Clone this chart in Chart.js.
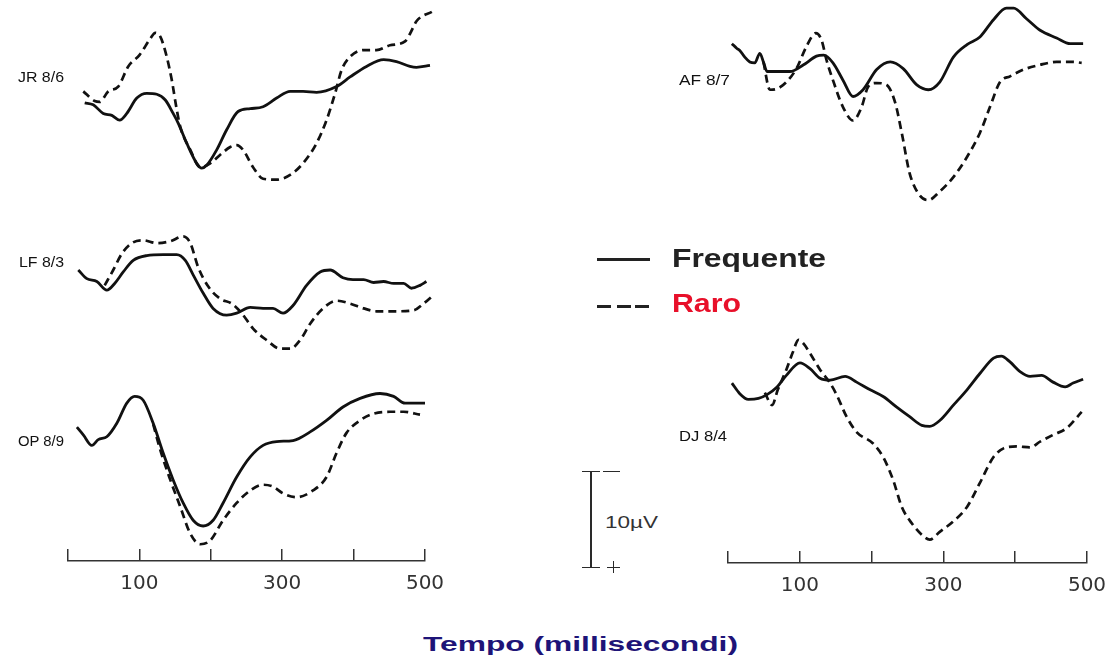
<!DOCTYPE html>
<html><head><meta charset="utf-8">
<script src="https://cdn.jsdelivr.net/npm/chart.js@4.4.1/dist/chart.umd.min.js"></script>
<style>
html,body{margin:0;padding:0;background:#fff;}
body{width:1111px;height:664px;position:relative;overflow:hidden;font-family:"Liberation Sans",Arial,sans-serif;}
canvas{position:absolute;}
.t{position:absolute;white-space:nowrap;transform-origin:0 0;line-height:1;}
.ln{position:absolute;background:#2a2a2a;}
</style></head><body>
<canvas id="colL" width="395" height="600" style="left:55px;top:0px"></canvas>
<canvas id="colR" width="396" height="600" style="left:715px;top:0px"></canvas>
<canvas id="axL" width="407" height="50" style="left:43px;top:549px"></canvas>
<canvas id="axR" width="409" height="50" style="left:703px;top:551px"></canvas>
<script>
// ---------- DATA (time in ms, amplitude in µV, negative up) ----------
const jrFreqMs = [23,35,49,61,72,82,96,110,124,136,147,154,166,180,187,194,208,222,238,255,273,292,311,329,348,376,395,418,442,460,479,488,507];
const jrFreqUv = [0.3,0.5,1.4,1.6,2.1,1.4,-0.2,-0.7,-0.6,0,1.4,2.4,4.5,6.6,7.1,6.8,5.2,3.1,1.2,0.9,0.7,-0.2,-0.9,-0.9,-0.8,-1.4,-2.4,-3.5,-4.2,-4.0,-3.5,-3.4,-3.6];
const jrRaroMs = [21,37,44,56,70,84,100,115,122,129,138,145,152,157,171,185,199,213,227,236,245,259,273,292,311,329,348,362,374,383,395,414,432,451,472,479,488,510];
const jrRaroUv = [-0.9,0.1,0.2,-0.9,-1.4,-3.5,-4.7,-6.4,-7.0,-6.6,-4.5,-2.1,1.0,2.8,5.2,7.0,6.6,5.7,4.9,4.7,5.2,7.0,8.2,8.3,7.8,6.6,4.5,2.1,-0.7,-3.1,-4.5,-5.2,-5.2,-5.7,-6.1,-6.9,-8.2,-9.2];

const lfFreqMs = [14,26,40,54,65,77,91,110,133,152,164,175,189,203,222,236,255,273,287,301,315,334,353,367,385,399,414,428,442,456,470,481,493,502];
const lfFreqUv = [0,0.9,1.2,2.1,1.4,0.2,-1.0,-1.5,-1.6,-1.6,-1.0,0.5,2.4,4.0,4.7,4.5,3.9,4.0,4.0,4.5,3.7,1.6,0.2,0,0.8,1.0,1.0,1.3,1.2,1.4,1.4,1.9,1.6,1.2];
const lfRaroMs = [51,63,75,89,105,124,143,161,171,182,196,213,229,243,259,278,297,311,325,339,357,376,395,414,432,460,484,498,512];
const lfRaroUv = [1.6,0,-1.7,-2.8,-3.1,-2.8,-3.0,-3.5,-2.8,-0.3,1.7,3.0,3.5,4.5,6.1,7.3,8.2,8.2,7.3,5.6,4.0,3.2,3.5,4.0,4.3,4.3,4.2,3.5,2.6];

const opFreqMs = [12,21,33,42,54,68,82,93,105,119,133,147,161,175,189,203,217,236,255,273,292,315,339,362,385,409,437,456,472,488,500];
const opFreqUv = [-0.3,0.5,1.6,1.0,0.7,-0.7,-2.8,-3.5,-3.1,-0.7,2.4,5.2,7.6,9.4,10.0,9.4,7.6,4.9,2.8,1.6,1.2,1.1,0.2,-1.0,-2.4,-3.3,-3.8,-3.5,-2.8,-2.8,-2.8];
const opRaroMs = [119,129,143,157,171,185,199,217,236,255,273,287,301,320,343,362,376,390,409,428,451,470,493];
const opRaroUv = [-0.6,2.1,5.2,8.0,10.8,11.9,11.5,9.4,7.6,6.3,5.7,5.9,6.6,7.0,6.3,4.9,2.4,0.3,-1.0,-1.7,-1.9,-1.9,-1.6];

const afFreqMs = [5,12,16,23,30,37,44,49,54,68,86,105,123,133,146,160,174,188,207,226,244,263,279,295,314,333,351,370,388,398,416,435,458,477,495];
const afFreqUv = [-1.7,-1.2,-1.0,-0.3,0.2,0.3,-0.7,0.2,1.2,1.2,1.2,0.5,-0.4,-0.5,0.3,2.1,3.8,3.1,1.0,0.2,0.9,2.6,3.1,2.3,-0.3,-1.6,-2.4,-4.2,-5.4,-5.4,-4.3,-3.1,-2.3,-1.7,-1.7];
const afRaroMs = [49,58,68,81,95,109,122,130,137,146,160,174,186,195,207,221,233,242,253,267,279,295,314,333,351,365,379,393,412,435,458,481,493];
const afRaroUv = [0.2,3.1,3.0,2.3,0.9,-1.4,-2.8,-2.1,0,2.1,4.9,6.3,4.9,2.8,2.4,2.6,4.5,7.6,11.8,14.1,14.6,13.7,12.2,10.1,7.6,4.9,2.3,1.7,1.0,0.5,0.2,0.2,0.3];

const djFreqMs = [5,16,28,42,54,68,81,100,114,128,142,163,179,198,216,235,253,270,281,295,314,333,351,370,381,393,407,421,437,453,470,481,495];
const djFreqUv = [-0.2,0.9,1.5,1.4,1.0,0.2,-1.0,-2.3,-1.7,-0.7,-0.5,-0.9,-0.3,0.5,1.2,2.3,3.3,4.2,4.3,3.7,2.1,0.5,-1.2,-2.8,-3.0,-2.4,-1.4,-0.9,-1.0,-0.3,0.2,-0.2,-0.6];
const djRaroMs = [51,61,69,81,90,98,105,114,128,142,151,165,179,202,216,230,242,256,270,281,295,314,333,351,370,384,402,421,435,453,472,493];
const djRaroUv = [0.8,2.1,0.5,-1.6,-3.4,-4.7,-4.3,-3.3,-1.6,-0.2,1.0,3.3,4.9,6.1,7.5,9.9,12.7,14.4,15.6,16.1,15.3,14.2,12.7,10.2,7.5,6.6,6.4,6.5,5.9,5.2,4.5,2.8];

const panelLabels = ['JR 8/6','LF 8/3','OP 8/9','AF 8/7','DJ 8/4'];
const seriesNames = ['Frequente','Raro'];
const axisTicks = [0,100,200,300,400,500];
const axisTickLabels = [100,300,500];
const scaleBarUv = 10;
const axisTitle = 'Tempo (millisecondi)';

// ---------- LAYOUT ----------
const UV_PX = 9.6;                 // pixels per µV (10 µV bar = 96 px)
const COLH = 600;
const cols = {
  L:{id:'colL', left:55, width:395, px0:68.3, pxPerMs:0.7134},
  R:{id:'colR', left:715, width:396, px0:728.3, pxPerMs:0.7168}
};
const panels = [
  {col:'L', base:100, fMs:jrFreqMs, fUv:jrFreqUv, rMs:jrRaroMs, rUv:jrRaroUv},
  {col:'L', base:270, fMs:lfFreqMs, fUv:lfFreqUv, rMs:lfRaroMs, rUv:lfRaroUv},
  {col:'L', base:430, fMs:opFreqMs, fUv:opFreqUv, rMs:opRaroMs, rUv:opRaroUv},
  {col:'R', base:60,  fMs:afFreqMs, fUv:afFreqUv, rMs:afRaroMs, rUv:afRaroUv},
  {col:'R', base:385, fMs:djFreqMs, fUv:djFreqUv, rMs:djRaroMs, rUv:djRaroUv}
];
const INK = '#111';

function pts(ms, uv){ return ms.map((x,i)=>({x:x, y:uv[i]})); }

Object.keys(cols).forEach(k=>{
  const c = cols[k];
  const scales = {
    x:{type:'linear', display:false,
       min:(c.left - c.px0)/c.pxPerMs, max:(c.left + c.width - c.px0)/c.pxPerMs}
  };
  const datasets = [];
  panels.forEach((p,i)=>{
    if(p.col!==k) return;
    const yid = 'y'+i;
    scales[yid] = {type:'linear', display:false, reverse:true,
      min:(0 - p.base)/UV_PX, max:(COLH - p.base)/UV_PX};
    datasets.push({label:seriesNames[1]+' '+panelLabels[i], data:pts(p.rMs,p.rUv), yAxisID:yid,
      borderColor:INK, borderWidth:2.7, borderDash:[8,5], pointRadius:0,
      cubicInterpolationMode:'monotone', fill:false, clip:false});
    datasets.push({label:seriesNames[0]+' '+panelLabels[i], data:pts(p.fMs,p.fUv), yAxisID:yid,
      borderColor:INK, borderWidth:2.8, pointRadius:0,
      cubicInterpolationMode:'monotone', fill:false, clip:false});
  });
  new Chart(document.getElementById(c.id), {
    type:'line', data:{datasets},
    options:{animation:false, responsive:false, events:[],
      layout:{padding:0},
      plugins:{legend:{display:false}, tooltip:{enabled:false}},
      scales}
  });
});

function axisChart(id){
  new Chart(document.getElementById(id), {
    type:'line', data:{datasets:[]},
    options:{animation:false, responsive:false, events:[],
      layout:{padding:{left:25,right:25,top:0,bottom:3}},
      plugins:{legend:{display:false}, tooltip:{enabled:false}},
      scales:{
        x:{type:'linear', position:'bottom', min:axisTicks[0], max:axisTicks[axisTicks.length-1],
          afterBuildTicks:(s)=>{ s.ticks = axisTicks.map(v=>({value:v})); },
          afterFit:(s)=>{ s.height = 35; s.paddingLeft = 0; s.paddingRight = 0; },
          ticks:{autoSkip:false, maxRotation:0, minRotation:0, padding:11, color:'#333',
            font:{family:'DejaVu Sans', size:20},
            callback:(v)=> axisTickLabels.includes(v) ? String(v) : ''},
          grid:{display:true, drawOnChartArea:true, drawTicks:false, color:'#333', lineWidth:1.5},
          border:{display:true, color:'#333', width:1.5}},
        y:{display:false}
      }}
  });
}
axisChart('axL'); axisChart('axR');

// ---------- TEXT & DECORATIONS ----------
function text(str, left, cy, width, fs, weight, color, family){
  const d = document.createElement('div');
  d.className='t'; d.textContent=str;
  d.style.fontSize=fs+'px'; d.style.fontWeight=weight; d.style.color=color;
  d.style.fontFamily = family || '"Liberation Sans", Arial, sans-serif';
  document.body.appendChild(d);
  const w = d.getBoundingClientRect().width;
  d.style.left = left+'px';
  d.style.top = (cy - 0.49*fs)+'px';
  d.style.transform = 'scaleX('+(width/w)+')';
  return d;
}
function line(x,y,w,h){ const d=document.createElement('div'); d.className='ln';
  d.style.left=x+'px'; d.style.top=y+'px'; d.style.width=w+'px'; d.style.height=h+'px';
  document.body.appendChild(d); return d; }

// panel labels
text(panelLabels[0], 17.5, 77, 46, 14, 'normal', '#111');
text(panelLabels[1], 18.5, 262, 45, 14, 'normal', '#111');
text(panelLabels[2], 17.5, 441, 46, 14, 'normal', '#111');
text(panelLabels[3], 678.5, 80, 51, 14, 'normal', '#111');
text(panelLabels[4], 679, 436, 48, 14, 'normal', '#111');

// legend
const lg1 = line(597, 257.5, 53, 3); lg1.style.background='#222';
[[597,14],[616.5,14],[635,14]].forEach(([x,w])=>{ const d=line(x,305,w,3); d.style.background='#222'; });
text(seriesNames[0], 672, 258, 154, 26, 'bold', '#222');
text(seriesNames[1], 672, 303, 69, 26, 'bold', '#e8102a');

// scale bar
line(590, 471, 1.6, 96);
line(582, 470.5, 18, 1.6);
line(582, 566.5, 18, 1.6);
line(603, 470.5, 17, 1.6);          // minus sign
line(607, 566.5, 13, 1.6);          // plus sign (horizontal)
line(612.7, 561, 1.6, 11.5);        // plus sign (vertical)
text(scaleBarUv+'\u00B5V', 605, 522, 53, 17, 'normal', '#333');

// x-axis title
text(axisTitle, 423, 644, 315, 20, 'bold', '#1e1478');
</script>
</body></html>
